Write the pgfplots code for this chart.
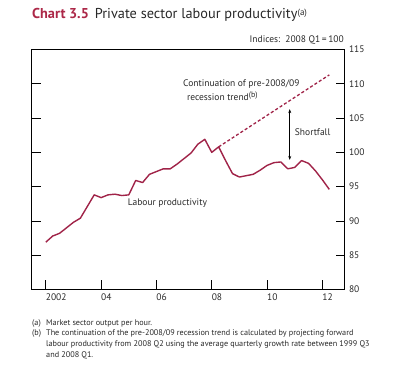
\documentclass[border=0pt]{standalone}
\usepackage{fontspec}
\setmainfont{PT Sans}
\usepackage{pgfplots}
\usetikzlibrary{arrows.meta}
\pgfplotsset{compat=1.18}
\definecolor{boe}{RGB}{160,35,72}
\definecolor{boetitle}{RGB}{172,40,72}
\definecolor{txt}{RGB}{40,40,40}
\pgfplotstableread{
x y
2002.00 86.9
2002.25 87.8
2002.50 88.2
2002.75 89.0
2003.00 89.8
2003.25 90.4
2003.50 92.1
2003.75 93.8
2004.00 93.4
2004.25 93.8
2004.50 93.9
2004.75 93.7
2005.00 93.8
2005.25 95.9
2005.50 95.6
2005.75 96.8
2006.00 97.2
2006.25 97.6
2006.50 97.6
2006.75 98.3
2007.00 99.1
2007.25 99.9
2007.50 101.2
2007.75 101.9
2008.00 100.0
2008.25 100.8
2008.50 98.8
2008.75 96.9
2009.00 96.4
2009.25 96.6
2009.50 96.8
2009.75 97.4
2010.00 98.1
2010.25 98.5
2010.50 98.6
2010.75 97.6
2011.00 97.8
2011.25 98.8
2011.50 98.4
2011.75 97.3
2012.00 96.0
2012.25 94.6
}\prodtable
\pgfplotstableread{
x y
2008.25 100.8
2012.25 111.3
}\trendtable
\begin{document}
\begin{tikzpicture}
\useasboundingbox (0pt,0pt) rectangle (412pt,377pt);
\node[anchor=west,inner sep=0,text=txt] at (32pt,362pt) {\fontsize{14.3}{17}\selectfont\textcolor{boetitle}{\bfseries Chart 3.5}\hspace{6pt}Private sector labour productivity\raisebox{3pt}{\fontsize{9}{10}\selectfont(a)}};
\node[anchor=east,inner sep=0,text=txt] at (344pt,337pt) {\fontsize{9.5}{11}\selectfont Indices:\ \ 2008 Q1\,=\,100};
\begin{axis}[at={(31.7pt,87.5pt)}, anchor=south west, scale only axis,
  width=312.8pt, height=240pt,
  xmin=2001.49, xmax=2012.80, ymin=80, ymax=115,
  xtick={2002,2004,2006,2008,2010,2012},
  xticklabels={2002,04,06,08,10,12},
  ytick={80,85,...,115},
  yticklabel pos=right, ytick pos=both, xtick pos=bottom,
  tick align=inside, major tick length=9pt,
  tick style={black, line width=0.8pt},
  axis line style={line width=1pt},
  ticklabel style={font=\fontsize{9.5}{11}\selectfont, text=txt},
  yticklabel style={anchor=west, xshift=1pt},
  xticklabel style={anchor=north west, xshift=-3.5pt, yshift=-1pt},
  /pgf/number format/assume math mode=true,
  /pgf/number format/1000 sep={},
  clip=false]
\addplot[boe, line width=1.4pt, line join=round] table[x=x,y=y] {\prodtable};
\addplot[boe, line width=1.3pt, dash pattern=on 3pt off 2.2pt] table[x=x,y=y] {\trendtable};
\draw[black, line width=0.7pt, {Stealth[length=4pt,width=3pt]}-{Stealth[length=4pt,width=3pt]}] (axis cs:2010.82,106.3) -- (axis cs:2010.82,98.9);
\node[anchor=west, inner sep=0, font=\fontsize{9.5}{11}\selectfont, text=txt] at (axis cs:2011.0,102.9) {Shortfall};
\node[anchor=west, inner sep=0, font=\fontsize{9.5}{11}\selectfont, text=txt] at (axis cs:2004.96,92.57) {Labour productivity};
\node[anchor=west, inner sep=0, font=\fontsize{9.5}{11}\selectfont, text=txt] at (axis cs:2006.96,109.9) {Continuation of pre-2008/09};
\node[anchor=west, inner sep=0, font=\fontsize{9.5}{11}\selectfont, text=txt] at (axis cs:2007.10,108.2) {recession trend\raisebox{3pt}{\fontsize{8}{9}\selectfont(b)}};
\end{axis}
\begin{scope}[font=\fontsize{8.2}{9.5}\selectfont, text=txt]
\node[anchor=west,inner sep=0] at (32pt,53.7pt) {(a)};
\node[anchor=west,inner sep=0] at (46pt,53.7pt) {Market sector output per hour.};
\node[anchor=west,inner sep=0] at (32pt,43.3pt) {(b)};
\node[anchor=west,inner sep=0] at (46pt,43.3pt) {The continuation of the pre-2008/09 recession trend is calculated by projecting forward};
\node[anchor=west,inner sep=0] at (46pt,32.7pt) {labour productivity from 2008 Q2 using the average quarterly growth rate between 1999 Q3};
\node[anchor=west,inner sep=0] at (46pt,21.7pt) {and 2008 Q1.};
\end{scope}
\end{tikzpicture}
\end{document}
